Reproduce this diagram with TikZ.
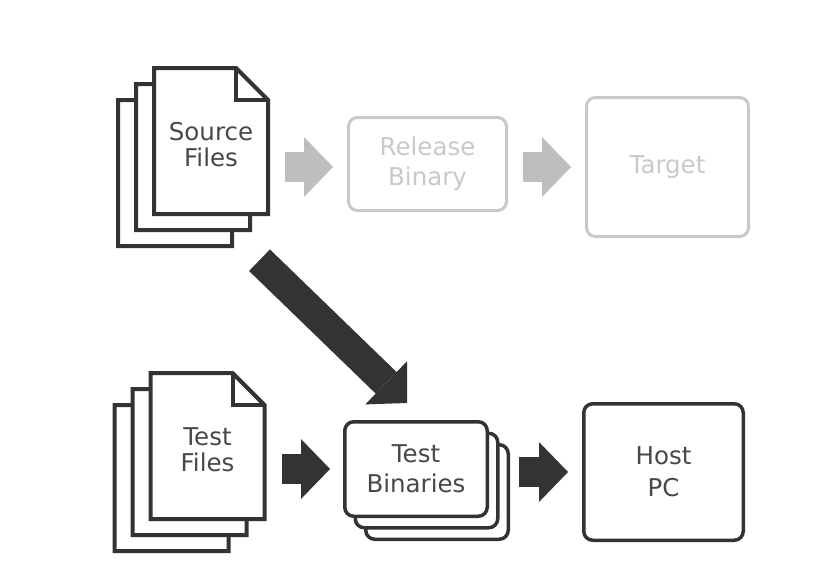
\documentclass[tikz,border=0pt]{standalone}
\usepackage{fontspec}
\setmainfont{DejaVu Sans}
\usepackage{tikz}
\usetikzlibrary{arrows.meta}
\definecolor{ink}{HTML}{333333}
\definecolor{txt}{HTML}{484848}
\definecolor{faint}{HTML}{C9C9C9}
\definecolor{faintarr}{HTML}{BEBEBE}

% stack of three sheets, front sheet centred at (#1,#2)
\newcommand{\docstack}[2]{%
  \foreach \dx/\dy in {-36/32,-18/16,0/0}{
    \begin{scope}[shift={({#1+\dx},{#2+\dy})}]
      \draw[pageline,fill=white] (-57,-73) -- (25,-73) -- (57,-41) -- (57,73) -- (-57,73) -- cycle;
      \draw[pageline] (25,-73) -- (25,-41) -- (57,-41);
    \end{scope}
  }}

\begin{document}
\begin{tikzpicture}[x=1pt,y=-1pt,font=\fontsize{24.5}{28}\selectfont,
  pageline/.style={draw=ink,line width=4pt},
  pagetext/.style={minimum width=114pt,minimum height=146pt,inner sep=0pt,align=center,text=txt,
    font=\fontsize{24.5}{26}\selectfont},
  box/.style={draw=ink,line width=3.5pt,rounded corners=9pt,fill=white,align=center,text=txt,
    inner sep=0pt,font=\fontsize{24.5}{30}\selectfont},
  faintbox/.style={box,draw=faint,line width=3pt,text=faint},
  binbox/.style={box,minimum width=142.5pt,minimum height=94.5pt},
  bigarrow/.style={draw=ink,line width=30pt,-{Triangle[length=29pt,width=60pt,line width=0pt]}}]
\fill[white] (0,0) rectangle (818,579);
\useasboundingbox (0,0) rectangle (818,579);

% top row
\docstack{211}{141}
\node[pagetext] (src) at (211,145) {Source\\Files};
\node[faintbox,minimum width=158pt,minimum height=93pt] (rel) at (427.5,164) {Release\\Binary};
\node[faintbox,minimum width=162pt,minimum height=139pt] (tgt) at (667.5,167) {Target};

% bottom row
\docstack{207.5}{446}
\node[pagetext] (tst) at (207.5,450) {Test\\Files};
\node[binbox] (bin3) at (437,492) {};
\node[binbox] (bin2) at (426.5,480.5) {};
\node[binbox] (bin) at (416,469) {Test\\Binaries};
\node[box,minimum width=159.5pt,minimum height=136.5pt,font=\fontsize{24.5}{32}\selectfont] (host) at (663.5,472) {Host\\PC};

% arrows
\draw[bigarrow,draw=faintarr,shorten <=17pt,shorten >=14pt] (src.east |- tgt) -- (rel.west |- tgt);
\draw[bigarrow,draw=faintarr,shorten <=15pt,shorten >=14pt] (rel.east |- tgt) -- (tgt.west);
\draw[bigarrow] ([shift={(48.5,42)}]src.south) -- ([shift={(-9,-17)}]bin.north);
\draw[bigarrow,shorten <=17.5pt,shorten >=13pt] (tst.east |- bin) -- (bin.west);
\draw[bigarrow,shorten <=9pt,shorten >=14pt] (bin3.east |- host) -- (host.west);
\end{tikzpicture}
\end{document}
